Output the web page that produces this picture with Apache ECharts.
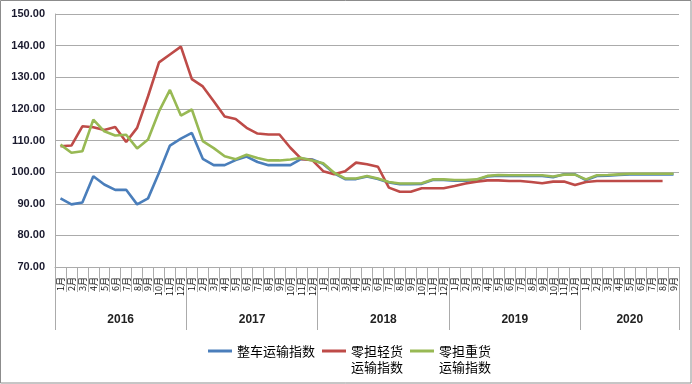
<!DOCTYPE html>
<html>
<head>
<meta charset="utf-8">
<script src="https://cdn.jsdelivr.net/npm/echarts@6/dist/echarts.min.js"></script>
<style>
html,body{margin:0;padding:0;background:#fff;}
#c{width:692px;height:384px;}
</style>
</head>
<body>
<div id="c"></div>
<script>
// ---- data ----
var years = ['2016', '2017', '2018', '2019', '2020'];
var monthsPerYear = [12, 12, 12, 12, 9];
var monthNames = ['1月','2月','3月','4月','5月','6月','7月','8月','9月','10月','11月','12月'];
var yTicks = [70, 80, 90, 100, 110, 120, 130, 140, 150];

var seriesNames = ['整车运输指数', '零担轻货\n运输指数', '零担重货\n运输指数'];

var zhengche = [
  91.7, 89.8, 90.4, 98.7, 96.1, 94.4, 94.4, 89.8, 91.7, 99.8, 108.4, 110.6,
  112.4, 104.2, 102.2, 102.2, 103.8, 104.9, 103.2, 102.2, 102.2, 102.2, 104.2, 104.0,
  102.6, 99.6, 97.8, 97.8, 98.6, 97.8, 96.7, 96.2, 96.2, 96.3, 97.5, 97.5,
  97.3, 97.3, 97.5, 98.6, 98.9, 98.8, 98.8, 98.8, 98.8, 98.4, 99.3, 99.3,
  97.5, 98.8, 98.9, 99.1, 99.3, 99.3, 99.3, 99.3, 99.3
];
var lingdanQing = [
  108.2, 108.4, 114.5, 114.2, 113.3, 114.3, 109.5, 114.0, 124.0, 134.7, 137.2, 139.7,
  129.4, 127.1, 122.4, 117.6, 116.8, 114.0, 112.2, 111.9, 111.9, 107.7, 104.2, 103.8,
  100.3, 99.3, 100.3, 103.0, 102.5, 101.7, 95.1, 93.8, 93.8, 94.9, 94.9, 94.9,
  95.6, 96.4, 97.0, 97.4, 97.4, 97.2, 97.2, 96.9, 96.5, 97.0, 97.0, 95.9,
  96.9, 97.2, 97.2, 97.2, 97.2, 97.2, 97.2, 97.2, null
];
var lingdanZhong = [
  108.7, 106.1, 106.6, 116.6, 112.9, 111.6, 111.8, 107.5, 110.3, 119.2, 126.0, 117.9,
  119.8, 109.8, 107.6, 105.0, 104.1, 105.5, 104.5, 103.7, 103.7, 104.0, 104.5, 103.7,
  102.8, 99.8, 98.0, 98.0, 98.8, 98.0, 96.9, 96.4, 96.4, 96.5, 97.7, 97.7,
  97.5, 97.5, 97.7, 98.8, 99.1, 99.0, 99.0, 99.0, 99.0, 98.6, 99.2, 99.2,
  97.7, 99.0, 99.1, 99.3, 99.5, 99.5, 99.5, 99.5, 99.5
];

// ---- derived axis structure ----
var categories = [];
var yearStarts = [0];
var yearMids = [];
(function () {
  var acc = 0;
  for (var i = 0; i < years.length; i++) {
    for (var m = 0; m < monthsPerYear[i]; m++) categories.push(monthNames[m]);
    yearMids.push(acc + monthsPerYear[i] / 2);
    acc += monthsPerYear[i];
    yearStarts.push(acc);
  }
})();
var total = categories.length;

var colors = ['#4A7EBB', '#BE4B48', '#98B954'];
var gridColor = '#ABABAB';

var chart = echarts.init(document.getElementById('c'));
chart.setOption({
  animation: false,
  backgroundColor: '#fff',
  color: colors,
  grid: { left: 55, right: 13, top: 14, bottom: 117, containLabel: false },
  graphic: [{
    type: 'rect', silent: true, z: 100,
    shape: { x: 0.5, y: 0.5, width: 690.5, height: 382.5 },
    style: { fill: 'none', stroke: '#8C8C8C', lineWidth: 1 }
  }],
  legend: {
    left: 203, top: 322,
    icon: 'rect', itemWidth: 24, itemHeight: 3, itemGap: 7,
    textStyle: { fontSize: 13, color: '#000', fontFamily: 'Noto Sans CJK SC', lineHeight: 16 },
    formatter: function (name) {
      return name.indexOf('\n') >= 0 ? '\n' + name : name;
    },
    data: seriesNames
  },
  xAxis: [{
    type: 'category',
    data: categories,
    boundaryGap: true,
    position: 'bottom',
    axisLine: { show: true, lineStyle: { color: gridColor, width: 1 } },
    axisTick: { show: true, interval: 0, length: 25, lineStyle: { color: gridColor } },
    axisLabel: {
      interval: 0, rotate: 90, margin: 10,
      fontSize: 9, color: '#111', fontFamily: 'Noto Sans CJK SC'
    },
    splitLine: { show: false }
  }, {
    type: 'value',
    min: 0, max: total,
    position: 'bottom',
    axisLine: { show: false },
    splitLine: { show: false },
    axisTick: { show: true, customValues: yearStarts, length: 63, lineStyle: { color: gridColor } },
    axisLabel: {
      customValues: yearMids, margin: 47,
      fontSize: 12, fontWeight: 'bold', color: '#222', fontFamily: 'Liberation Sans',
      formatter: function (v) {
        var idx = yearMids.indexOf(v);
        return idx >= 0 ? years[idx] : '';
      }
    }
  }],
  yAxis: {
    type: 'value',
    min: yTicks[0], max: yTicks[yTicks.length - 1], interval: 10,
    axisLine: { show: true, lineStyle: { color: gridColor } },
    axisTick: { show: false },
    splitLine: { show: true, lineStyle: { color: gridColor, width: 1 } },
    axisLabel: {
      margin: 10, fontSize: 11, fontWeight: 'bold', color: '#1a1a2e',
      fontFamily: 'Liberation Sans',
      formatter: function (v) { return v.toFixed(2); }
    }
  },
  series: [
    { name: seriesNames[0], type: 'line', data: zhengche, showSymbol: false, symbol: 'none',
      lineStyle: { width: 2.6, color: colors[0] }, xAxisIndex: 0 },
    { name: seriesNames[1], type: 'line', data: lingdanQing, showSymbol: false, symbol: 'none',
      lineStyle: { width: 2.6, color: colors[1] }, xAxisIndex: 0 },
    { name: seriesNames[2], type: 'line', data: lingdanZhong, showSymbol: false, symbol: 'none',
      lineStyle: { width: 2.6, color: colors[2] }, xAxisIndex: 0 }
  ]
});
</script>
</body>
</html>
